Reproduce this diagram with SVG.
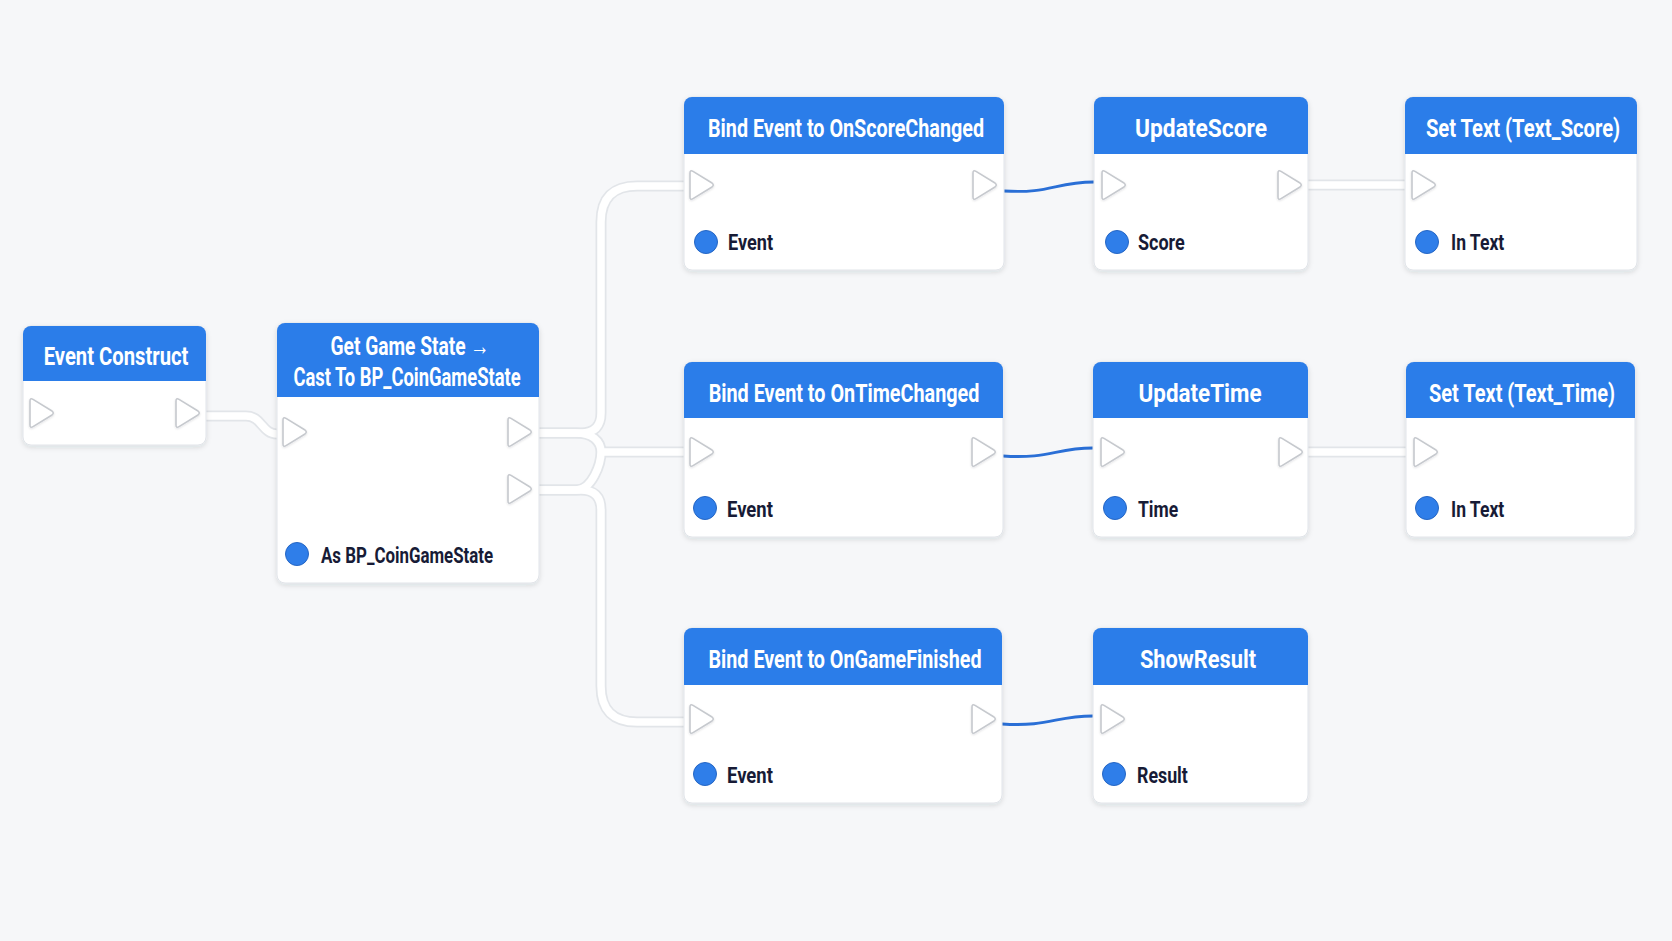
<svg xmlns="http://www.w3.org/2000/svg" xmlns:xlink="http://www.w3.org/1999/xlink" width="1672" height="941" viewBox="0 0 1672 941">
<defs>
<style>
.body{fill:#ffffff;stroke:#e1e4e9;stroke-width:1}
.head{fill:#2b7de9}
.title{font-family:Roboto,"Liberation Sans",sans-serif;font-weight:700;font-size:26.5px;fill:#ffffff;text-anchor:middle}
.lbl{font-family:Roboto,"Liberation Sans",sans-serif;font-weight:700;font-size:21.5px;fill:#171b36}
.pin{fill:#ffffff;stroke:#c6c9ce;stroke-width:1.6;stroke-linejoin:round}
.dot{fill:#2f7ee9;stroke:#2566c4;stroke-width:1}
.wireO{fill:none;stroke:#e2e5e9;stroke-width:11;stroke-linecap:butt}
.wireI{fill:none;stroke:#ffffff;stroke-width:7.5;stroke-linecap:butt}
.blue{fill:none;stroke:#2a6fd6;stroke-width:2.8;stroke-linecap:round}
</style>
<filter id="sh" x="-10%" y="-10%" width="120%" height="130%">
<feDropShadow dx="0" dy="2" stdDeviation="2.5" flood-color="#1a2233" flood-opacity="0.13"/>
</filter>
<filter id="psh" x="-30%" y="-30%" width="160%" height="160%">
<feDropShadow dx="0" dy="1" stdDeviation="1" flood-color="#1a2233" flood-opacity="0.12"/>
</filter>
<path id="pin" class="pin" filter="url(#psh)" d="M0,-12 Q0,-15.5 3,-13.6 L22,-2 Q24.5,0 22,2 L3,13.6 Q0,15.5 0,12 Z"/>
<path id="w1" d="M206,416 H246 C262,416 262,434 277,434"/>
<path id="w2" d="M539,433 H581 Q601,433 601,413 V222 Q601,186 637,186 H684"/>
<path id="w3" d="M539,433 H576 C592,433 601,441 601,452 C601,464 592,490 576,490 H539"/>
<path id="w4" d="M601,452 H684"/>
<path id="w5" d="M539,490 H581 Q601,490 601,510 V686 Q601,722 637,722 H684"/>
<path id="w6" d="M1308,185 H1405"/>
<path id="w7" d="M1308,452 H1406"/>
</defs>
<rect width="1672" height="941" fill="#f6f7f9"/>

<g id="connectors">
<use xlink:href="#w1" class="wireO"/><use xlink:href="#w2" class="wireO"/><use xlink:href="#w3" class="wireO"/><use xlink:href="#w4" class="wireO"/><use xlink:href="#w5" class="wireO"/><use xlink:href="#w6" class="wireO"/><use xlink:href="#w7" class="wireO"/>
<use xlink:href="#w1" class="wireI"/><use xlink:href="#w2" class="wireI"/><use xlink:href="#w3" class="wireI"/><use xlink:href="#w4" class="wireI"/><use xlink:href="#w5" class="wireI"/><use xlink:href="#w6" class="wireI"/><use xlink:href="#w7" class="wireI"/>
<path class="blue" d="M1004,191 C1050,194 1055,182 1094,182"/>
<path class="blue" d="M1003,456 C1050,459 1055,448 1093,448"/>
<path class="blue" d="M1002,724 C1050,727 1055,716 1093,716"/>
</g>

<g id="node-event-construct">
<rect class="body" x="23" y="326" width="183" height="119" rx="8" filter="url(#sh)"/>
<path class="head" d="M23,381 V334 A8,8 0 0 1 31,326 H198 A8,8 0 0 1 206,334 V381 Z"/>
<text class="title" transform="translate(116,365) scale(0.75,1)" textLength="193" lengthAdjust="spacingAndGlyphs">Event Construct</text>
<use xlink:href="#pin" x="30" y="413"/>
<use xlink:href="#pin" x="176" y="413"/>
</g>

<g id="node-get-game-state">
<rect class="body" x="277" y="323" width="262" height="260" rx="8" filter="url(#sh)"/>
<path class="head" d="M277,397 V331 A8,8 0 0 1 285,323 H531 A8,8 0 0 1 539,331 V397 Z"/>
<text class="title" style="font-size:25.5px" transform="translate(410,355) scale(0.75,1)" textLength="212" lengthAdjust="spacingAndGlyphs">Get Game State →</text>
<text class="title" style="font-size:25.5px" transform="translate(407,386) scale(0.75,1)" textLength="303" lengthAdjust="spacingAndGlyphs">Cast To BP_CoinGameState</text>
<use xlink:href="#pin" x="283" y="432"/>
<use xlink:href="#pin" x="508" y="432"/>
<use xlink:href="#pin" x="508" y="489"/>
<circle class="dot" cx="297" cy="554" r="11.5"/>
<text class="lbl" transform="translate(321,563) scale(0.82,1)" textLength="210" lengthAdjust="spacingAndGlyphs">As BP_CoinGameState</text>
</g>

<g id="node-bind-score">
<rect class="body" x="684" y="97" width="320" height="173" rx="8" filter="url(#sh)"/>
<path class="head" d="M684,154 V105 A8,8 0 0 1 692,97 H996 A8,8 0 0 1 1004,105 V154 Z"/>
<text class="title" transform="translate(846,137) scale(0.75,1)" textLength="368" lengthAdjust="spacingAndGlyphs">Bind Event to OnScoreChanged</text>
<use xlink:href="#pin" x="690" y="185"/>
<use xlink:href="#pin" x="973" y="185"/>
<circle class="dot" cx="706" cy="242" r="11.5"/>
<text class="lbl" transform="translate(728,250) scale(0.82,1)" textLength="55" lengthAdjust="spacingAndGlyphs">Event</text>
</g>

<g id="node-update-score">
<rect class="body" x="1094" y="97" width="214" height="173" rx="8" filter="url(#sh)"/>
<path class="head" d="M1094,154 V105 A8,8 0 0 1 1102,97 H1300 A8,8 0 0 1 1308,105 V154 Z"/>
<text class="title" transform="translate(1201,137) scale(0.75,1)" textLength="176" lengthAdjust="spacingAndGlyphs">UpdateScore</text>
<use xlink:href="#pin" x="1102" y="185"/>
<use xlink:href="#pin" x="1278" y="185"/>
<circle class="dot" cx="1117" cy="242" r="11.5"/>
<text class="lbl" transform="translate(1138,250) scale(0.82,1)" textLength="57" lengthAdjust="spacingAndGlyphs">Score</text>
</g>

<g id="node-settext-score">
<rect class="body" x="1405" y="97" width="232" height="173" rx="8" filter="url(#sh)"/>
<path class="head" d="M1405,154 V105 A8,8 0 0 1 1413,97 H1629 A8,8 0 0 1 1637,105 V154 Z"/>
<text class="title" transform="translate(1523,137) scale(0.75,1)" textLength="259" lengthAdjust="spacingAndGlyphs">Set Text (Text_Score)</text>
<use xlink:href="#pin" x="1412" y="185"/>
<circle class="dot" cx="1427" cy="242" r="11.5"/>
<text class="lbl" transform="translate(1451,250) scale(0.82,1)" textLength="65" lengthAdjust="spacingAndGlyphs">In Text</text>
</g>

<g id="node-bind-time">
<rect class="body" x="684" y="362" width="319" height="175" rx="8" filter="url(#sh)"/>
<path class="head" d="M684,418 V370 A8,8 0 0 1 692,362 H995 A8,8 0 0 1 1003,370 V418 Z"/>
<text class="title" transform="translate(844,402) scale(0.75,1)" textLength="361" lengthAdjust="spacingAndGlyphs">Bind Event to OnTimeChanged</text>
<use xlink:href="#pin" x="690" y="452"/>
<use xlink:href="#pin" x="972" y="452"/>
<circle class="dot" cx="705" cy="508" r="11.5"/>
<text class="lbl" transform="translate(727,517) scale(0.82,1)" textLength="56" lengthAdjust="spacingAndGlyphs">Event</text>
</g>

<g id="node-update-time">
<rect class="body" x="1093" y="362" width="215" height="175" rx="8" filter="url(#sh)"/>
<path class="head" d="M1093,418 V370 A8,8 0 0 1 1101,362 H1300 A8,8 0 0 1 1308,370 V418 Z"/>
<text class="title" transform="translate(1200,402) scale(0.75,1)" textLength="164" lengthAdjust="spacingAndGlyphs">UpdateTime</text>
<use xlink:href="#pin" x="1101" y="452"/>
<use xlink:href="#pin" x="1279" y="452"/>
<circle class="dot" cx="1115" cy="508" r="11.5"/>
<text class="lbl" transform="translate(1138,517) scale(0.82,1)" textLength="49" lengthAdjust="spacingAndGlyphs">Time</text>
</g>

<g id="node-settext-time">
<rect class="body" x="1406" y="362" width="229" height="175" rx="8" filter="url(#sh)"/>
<path class="head" d="M1406,418 V370 A8,8 0 0 1 1414,362 H1627 A8,8 0 0 1 1635,370 V418 Z"/>
<text class="title" transform="translate(1522,402) scale(0.75,1)" textLength="248" lengthAdjust="spacingAndGlyphs">Set Text (Text_Time)</text>
<use xlink:href="#pin" x="1414" y="452"/>
<circle class="dot" cx="1427" cy="508" r="11.5"/>
<text class="lbl" transform="translate(1451,517) scale(0.82,1)" textLength="65" lengthAdjust="spacingAndGlyphs">In Text</text>
</g>

<g id="node-bind-finished">
<rect class="body" x="684" y="628" width="318" height="175" rx="8" filter="url(#sh)"/>
<path class="head" d="M684,685 V636 A8,8 0 0 1 692,628 H994 A8,8 0 0 1 1002,636 V685 Z"/>
<text class="title" transform="translate(845,668) scale(0.75,1)" textLength="364" lengthAdjust="spacingAndGlyphs">Bind Event to OnGameFinished</text>
<use xlink:href="#pin" x="690" y="719"/>
<use xlink:href="#pin" x="972" y="719"/>
<circle class="dot" cx="705" cy="774" r="11.5"/>
<text class="lbl" transform="translate(727,783) scale(0.82,1)" textLength="56" lengthAdjust="spacingAndGlyphs">Event</text>
</g>

<g id="node-show-result">
<rect class="body" x="1093" y="628" width="215" height="175" rx="8" filter="url(#sh)"/>
<path class="head" d="M1093,685 V636 A8,8 0 0 1 1101,628 H1300 A8,8 0 0 1 1308,636 V685 Z"/>
<text class="title" transform="translate(1198,668) scale(0.75,1)" textLength="155" lengthAdjust="spacingAndGlyphs">ShowResult</text>
<use xlink:href="#pin" x="1101" y="719"/>
<circle class="dot" cx="1114" cy="774" r="11.5"/>
<text class="lbl" transform="translate(1137,783) scale(0.82,1)" textLength="62" lengthAdjust="spacingAndGlyphs">Result</text>
</g>
</svg>
